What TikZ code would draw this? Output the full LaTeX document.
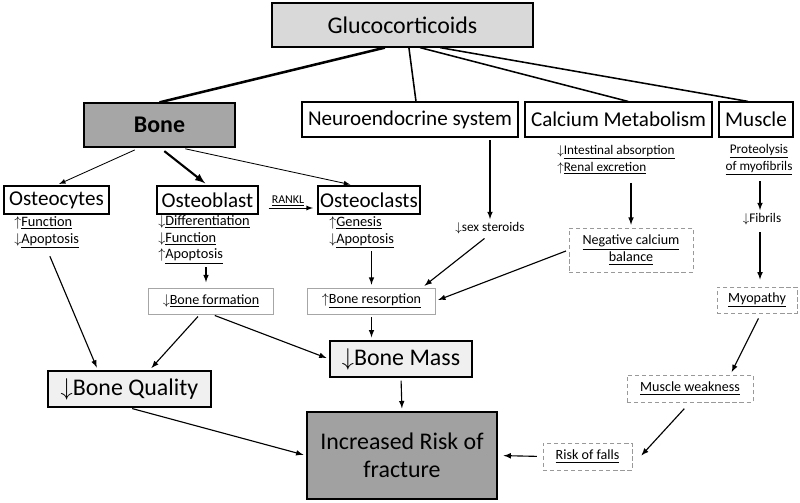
\documentclass[tikz,border=0pt]{standalone}
\usepackage{fontspec}
\setmainfont{Carlito}
\usepackage{tikz}
\usetikzlibrary{arrows, positioning, calc}
\newcommand{\upar}{$\uparrow$}
\newcommand{\dnar}{$\downarrow$}

\begin{document}
\begin{tikzpicture}[x=0.025cm, y=-0.025cm,
    box/.style={draw, line width=0.9pt, inner sep=0pt, align=center},
    softbox/.style={draw=black!35, line width=0.7pt, inner sep=0pt, align=center},
    dashbox/.style={draw=black!40, line width=0.6pt, dash pattern=on 3pt off 2pt, inner sep=0pt, align=center},
    small/.style={font=\fontsize{9.4}{12}\selectfont},
    cell/.style={font=\fontsize{10.2}{12}\selectfont},
    note/.style={font=\fontsize{10}{12}\selectfont},
    mid/.style={font=\fontsize{15}{18}\selectfont},
    big/.style={font=\fontsize{17}{20}\selectfont},
    arr/.style={-latex, line width=0.6pt, shorten <=2pt, shorten >=2pt},
    link/.style={line width=1.1pt}
]
\useasboundingbox (0,0) rectangle (800,503);

% Top level
\node[box, big, fill=black!15, minimum width=6.525cm, minimum height=1.1cm] (gluc) at (402.5,25) {Glucocorticoids};

\node[box, big, fill=black!35, minimum width=3.775cm, minimum height=1.1cm, font=\fontsize{17}{20}\selectfont\bfseries] (bone) at (159.5,125) {Bone};
\node[box, mid, line width=0.8pt, minimum width=5.4cm, minimum height=0.875cm] (neuro) at (410,119.5) {Neuroendocrine system};
\node[box, mid, line width=0.8pt, minimum width=4.675cm, minimum height=0.875cm] (calc) at (618.5,119.5) {Calcium Metabolism};
\node[box, mid, line width=0.8pt, minimum width=1.85cm, minimum height=0.875cm] (muscle) at (756,119.5) {Muscle};

\draw[line width=1.8pt] ([xshift=-0.44cm]gluc.south) -- (bone.north);
\draw[link] ([xshift=0.16cm]gluc.south) -- ([xshift=0.15cm]neuro.north);
\draw[link] ([xshift=0.44cm]gluc.south) -- ([xshift=0.24cm]calc.north);
\draw[link] ([xshift=0.94cm]gluc.south) -- ([xshift=-0.2cm]muscle.north);

% Bone cells
\node[box, mid, line width=1.2pt, minimum width=2.625cm, minimum height=0.7cm] (ocyte) at (56.5,200) {Osteocytes};
\node[box, mid, line width=1.2pt, minimum width=2.525cm, minimum height=0.7cm] (oblast) at (207.5,200) {Osteoblast};
\node[box, mid, line width=1.2pt, minimum width=2.55cm, minimum height=0.7cm] (oclast) at (369,200) {Osteoclasts};

\draw[arr, shorten <=4pt] ([xshift=-0.49cm]bone.south) -- (ocyte.north);
\draw[arr, line width=1.5pt, shorten <=4pt] ([xshift=0.01cm]bone.south) -- (oblast.north);
\draw[arr, shorten <=4pt] ([xshift=0.51cm]bone.south) -- ([xshift=-0.4cm]oclast.north);
\draw[arr, shorten <=7pt, shorten >=3pt] ([yshift=-0.2cm]oblast.east) -- node[above, font=\fontsize{8.5}{10}\selectfont, inner sep=1pt] {\underline{RANKL}} ([yshift=-0.2cm]oclast.west);

\node[cell, anchor=north west, align=left, inner sep=0pt] (ocytetxt) at (14,216) {\upar\underline{Function}\\\dnar\underline{Apoptosis}};
\node[cell, anchor=north west, align=left, inner sep=0pt] (oblasttxt) at (158,215) {\dnar\underline{Differentiation}\\\dnar\underline{Function}\\\upar\underline{Apoptosis}};
\node[cell, anchor=north west, align=left, inner sep=0pt] (oclasttxt) at (329,216) {\upar\underline{Genesis}\\\dnar\underline{Apoptosis}};

\node[softbox, note, minimum width=3.1cm, minimum height=0.65cm] (boneform) at (211,301) {\dnar\underline{Bone formation}};
\node[softbox, note, minimum width=3.175cm, minimum height=0.65cm] (boneres) at (371.5,301) {\upar\underline{Bone resorption}};

\draw[arr, line width=0.8pt] (oblasttxt.south -| 206,0) -- (206,285) coordinate (bfin);
\draw[arr, line width=0.8pt] (boneres.north |- oclasttxt.south) -- (boneres.north);

% Neuroendocrine and calcium
\node[small, inner sep=0pt] (sexst) at (490,228) {\dnar sex steroids};
\draw[arr, line width=0.8pt] (sexst.north |- neuro.south) -- (sexst.north);
\draw[arr, line width=0.8pt, shorten <=5pt] (sexst.south) -- ([xshift=-0.33cm]boneres.north east);

\node[small, anchor=north west, align=left, inner sep=0pt] (calctxt) at (557,145) {\dnar\underline{Intestinal absorption}\\\upar\underline{Renal excretion}};
\node[dashbox, note, minimum width=3.1cm, minimum height=1.1cm] (negcal) at (631,250) {\underline{Negative calcium}\\\underline{balance}};
\draw[arr, line width=0.8pt, shorten <=6pt] (negcal.north |- calctxt.south) -- (negcal.north);
\draw[arr, line width=0.8pt] (negcal.west) -- (boneres.east);

% Muscle
\node[small, align=center, inner sep=0pt] (proteo) at (759,160) {\underline{Proteolysis}\\\underline{of myofibrils}};
\node[small, inner sep=0pt] (fibrils) at (762,219) {\dnar Fibrils};
\node[dashbox, note, minimum width=2cm, minimum height=0.65cm] (myo) at (757,300) {\underline{Myopathy}};
\node[dashbox, note, minimum width=3.15cm, minimum height=0.675cm] (weak) at (690,388.5) {\underline{Muscle weakness}};
\node[dashbox, note, minimum width=2.225cm, minimum height=0.675cm] (falls) at (587.5,456.5) {\underline{Risk of falls}};

\draw[arr, line width=0.8pt, shorten <=4pt] (760,0 |- proteo.south) -- (760,0 |- fibrils.north);
\draw[arr, line width=0.8pt, shorten <=5pt, shorten >=5pt] (760,0 |- fibrils.south) -- (760,0 |- myo.north);
\draw[arr, line width=0.8pt, shorten <=4pt] ([xshift=0.1cm]myo.south) -- ([xshift=-0.575cm]weak.north east);
\draw[arr, line width=0.8pt, shorten <=6pt, shorten >=1pt] (weak.south) -- ([xshift=0.2cm]falls.east);

% Outcomes
\node[box, big, fill=black!6, line width=1.2pt, minimum width=3.55cm, minimum height=0.9cm] (mass) at (401,359) {\dnar Bone Mass};
\node[box, big, fill=black!6, line width=1.2pt, minimum width=4.075cm, minimum height=0.9cm] (quality) at (129.5,389) {\dnar Bone Quality};
\node[box, big, fill=black!37, line width=1.2pt, minimum width=4.75cm, minimum height=2.175cm] (risk) at (402,455.5) {Increased Risk of\\fracture};

\draw[arr, line width=0.8pt] (boneres.south) -- (boneres.south |- mass.north);
\draw[arr, line width=0.8pt] ([xshift=0.03cm]boneform.south) -- (mass.west);
\draw[arr, line width=0.8pt] ([xshift=-0.28cm]boneform.south) -- ([xshift=0.5cm]quality.north);
\draw[arr, line width=0.8pt, shorten <=6pt] (ocytetxt.south) -- ([xshift=-0.79cm]quality.north);
\draw[arr, line width=0.8pt] (quality.south) -- (risk.west);
\draw[arr, line width=0.8pt] (mass.south) -- (risk.north);
\draw[arr, line width=0.8pt, shorten <=4pt, shorten >=4pt] (falls.west) -- (risk.east);
\end{tikzpicture}
\end{document}
